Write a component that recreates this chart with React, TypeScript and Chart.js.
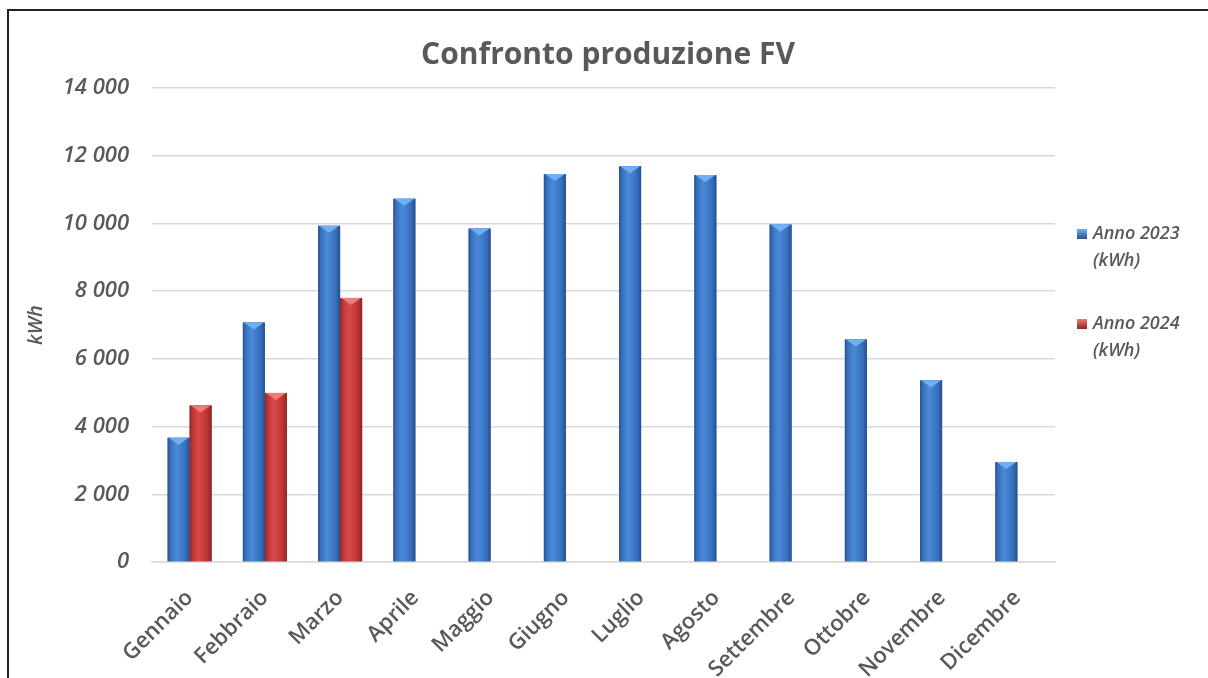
import React, { useEffect, useRef } from "react";
import { Chart, registerables } from "chart.js";

Chart.register(...registerables);

const months = [
  "Gennaio", "Febbraio", "Marzo", "Aprile", "Maggio", "Giugno",
  "Luglio", "Agosto", "Settembre", "Ottobre", "Novembre", "Dicembre",
];
const series2023Label = "Anno 2023 (kWh)";
const series2024Label = "Anno 2024 (kWh)";
const values2023 = [3670, 7075, 9930, 10730, 9850, 11460, 11690, 11430, 9965, 6575, 5365, 2955];
const values2024 = [4625, 4995, 7800, null, null, null, null, null, null, null, null, null];
const yTicks = [0, 2000, 4000, 6000, 8000, 10000, 12000, 14000];

const PAL = [
  { dark: "#274f8a", mid: "#3670bd", light: "#4a8ad8", cap: "#6fb0f2", solid: "#3a76c6" },
  { dark: "#8a2626", mid: "#bd3434", light: "#d84a4a", cap: "#f07a78", solid: "#c43a3a" },
];

const TEXT = "#595959";
const FONT = "'Open Sans', 'DejaVu Sans', sans-serif";

const fmt = (v: number) => {
  const s = Math.round(v).toString();
  return s.replace(/\B(?=(\d{3})+(?!\d))/g, " ");
};

const barShade = {
  id: "barShade",
  afterDatasetsDraw(chart: any) {
    const ctx = chart.ctx;
    chart.data.datasets.forEach((ds: any, di: number) => {
      const meta = chart.getDatasetMeta(di);
      const p = PAL[di];
      meta.data.forEach((el: any, i: number) => {
        const v = ds.data[i];
        if (v == null) return;
        const { x, y, base, width } = el.getProps(["x", "y", "base", "width"], true);
        const l = x - width / 2;
        const r = x + width / 2;
        ctx.save();
        const g = ctx.createLinearGradient(l, 0, r, 0);
        g.addColorStop(0, p.dark);
        g.addColorStop(0.12, p.mid);
        g.addColorStop(0.4, p.light);
        g.addColorStop(0.8, p.mid);
        g.addColorStop(1, p.dark);
        ctx.fillStyle = g;
        ctx.fillRect(l, y, width, base - y);
        const d = Math.min(width * 0.32, base - y);
        ctx.beginPath();
        ctx.moveTo(l + 1, y);
        ctx.lineTo(r - 1, y);
        ctx.lineTo(x, y + d);
        ctx.closePath();
        ctx.fillStyle = p.cap;
        ctx.fill();
        ctx.restore();
      });
    });
  },
};

const sideLegend = {
  id: "sideLegend",
  afterDraw(chart: any) {
    const ctx = chart.ctx;
    ctx.save();
    chart.data.datasets.forEach((ds: any, di: number) => {
      const baseY = 234 + di * 90;
      const p = PAL[di];
      const g = ctx.createLinearGradient(1077, baseY - 5, 1077, baseY + 5);
      g.addColorStop(0, p.cap);
      g.addColorStop(1, p.dark);
      ctx.fillStyle = g;
      ctx.fillRect(1077, baseY - 5, 10, 10);
      const label: string = ds.label;
      const idx = label.indexOf(" (");
      const lines = idx >= 0 ? [label.slice(0, idx), label.slice(idx + 1)] : [label];
      ctx.fillStyle = TEXT;
      ctx.font = `italic 600 18px ${FONT}`;
      ctx.textBaseline = "middle";
      ctx.textAlign = "left";
      lines.forEach((ln, k) => ctx.fillText(ln, 1093, baseY + k * 27));
    });
    ctx.restore();
  },
};

export default function App() {
  const ref = useRef<HTMLCanvasElement | null>(null);
  useEffect(() => {
    if (!ref.current) return;
    Chart.defaults.font.family = FONT;
    const chart = new Chart(ref.current, {
      type: "bar",
      data: {
        labels: months,
        datasets: [
          { label: series2023Label, data: values2023, backgroundColor: PAL[0].solid, categoryPercentage: 0.585, barPercentage: 1.0 },
          { label: series2024Label, data: values2024 as any, backgroundColor: PAL[1].solid, categoryPercentage: 0.585, barPercentage: 1.0 },
        ],
      },
      options: {
        animation: false,
        responsive: false,
        maintainAspectRatio: false,
        layout: { padding: { left: 8, right: 0, top: 0, bottom: 0 } },
        plugins: {
          legend: { display: false },
          tooltip: { enabled: false },
          title: {
            display: true,
            text: "Confronto produzione FV",
            color: TEXT,
            font: { size: 30, weight: "bold" as any, family: FONT },
            padding: { top: 37, bottom: 15 },
          },
        },
        scales: {
          x: {
            grid: { display: false },
            border: { display: true, color: "#d9d9d9", width: 1.5 },
            ticks: {
              color: TEXT,
              font: { size: 22, weight: "600" as any, family: FONT },
              maxRotation: 45,
              minRotation: 45,
              padding: 15,
              autoSkip: false,
            },
            afterFit: (s: any) => { s.height = 116; },
          },
          y: {
            min: 0,
            max: 14000,
            afterBuildTicks: (s: any) => { s.ticks = yTicks.map((v) => ({ value: v })); },
            grid: { color: "#d9d9d9", lineWidth: 1.5, drawTicks: false },
            border: { display: false },
            ticks: {
              color: TEXT,
              font: { size: 22, style: "italic", weight: "600" as any, family: FONT },
              padding: 23,
              callback: (v: any) => fmt(Number(v)),
            },
            title: {
              display: true,
              text: "kWh",
              color: TEXT,
              font: { size: 20, style: "italic", weight: "600" as any, family: FONT },
              padding: { top: 16, bottom: 0 },
            },
            afterFit: (s: any) => { s.width = 144; },
          },
          legendSpace: {
            type: "linear",
            position: "right",
            display: true,
            grid: { display: false, drawTicks: false },
            border: { display: false },
            ticks: { display: false },
            afterFit: (s: any) => { s.width = 153; },
          } as any,
        },
      },
      plugins: [barShade, sideLegend],
    });
    return () => chart.destroy();
  }, []);
  return (
    <div style={{ position: "fixed", left: 0, top: 0, width: 1208, height: 678, overflow: "hidden", background: "#fff" }}>
      <div style={{ position: "absolute", left: 7, top: 9, width: 1400, height: 900, border: "2px solid #222", boxSizing: "border-box" }} />
      <canvas ref={ref} width={1208} height={678} style={{ position: "absolute", left: 0, top: 0, width: 1208, height: 678 }} />
    </div>
  );
}
